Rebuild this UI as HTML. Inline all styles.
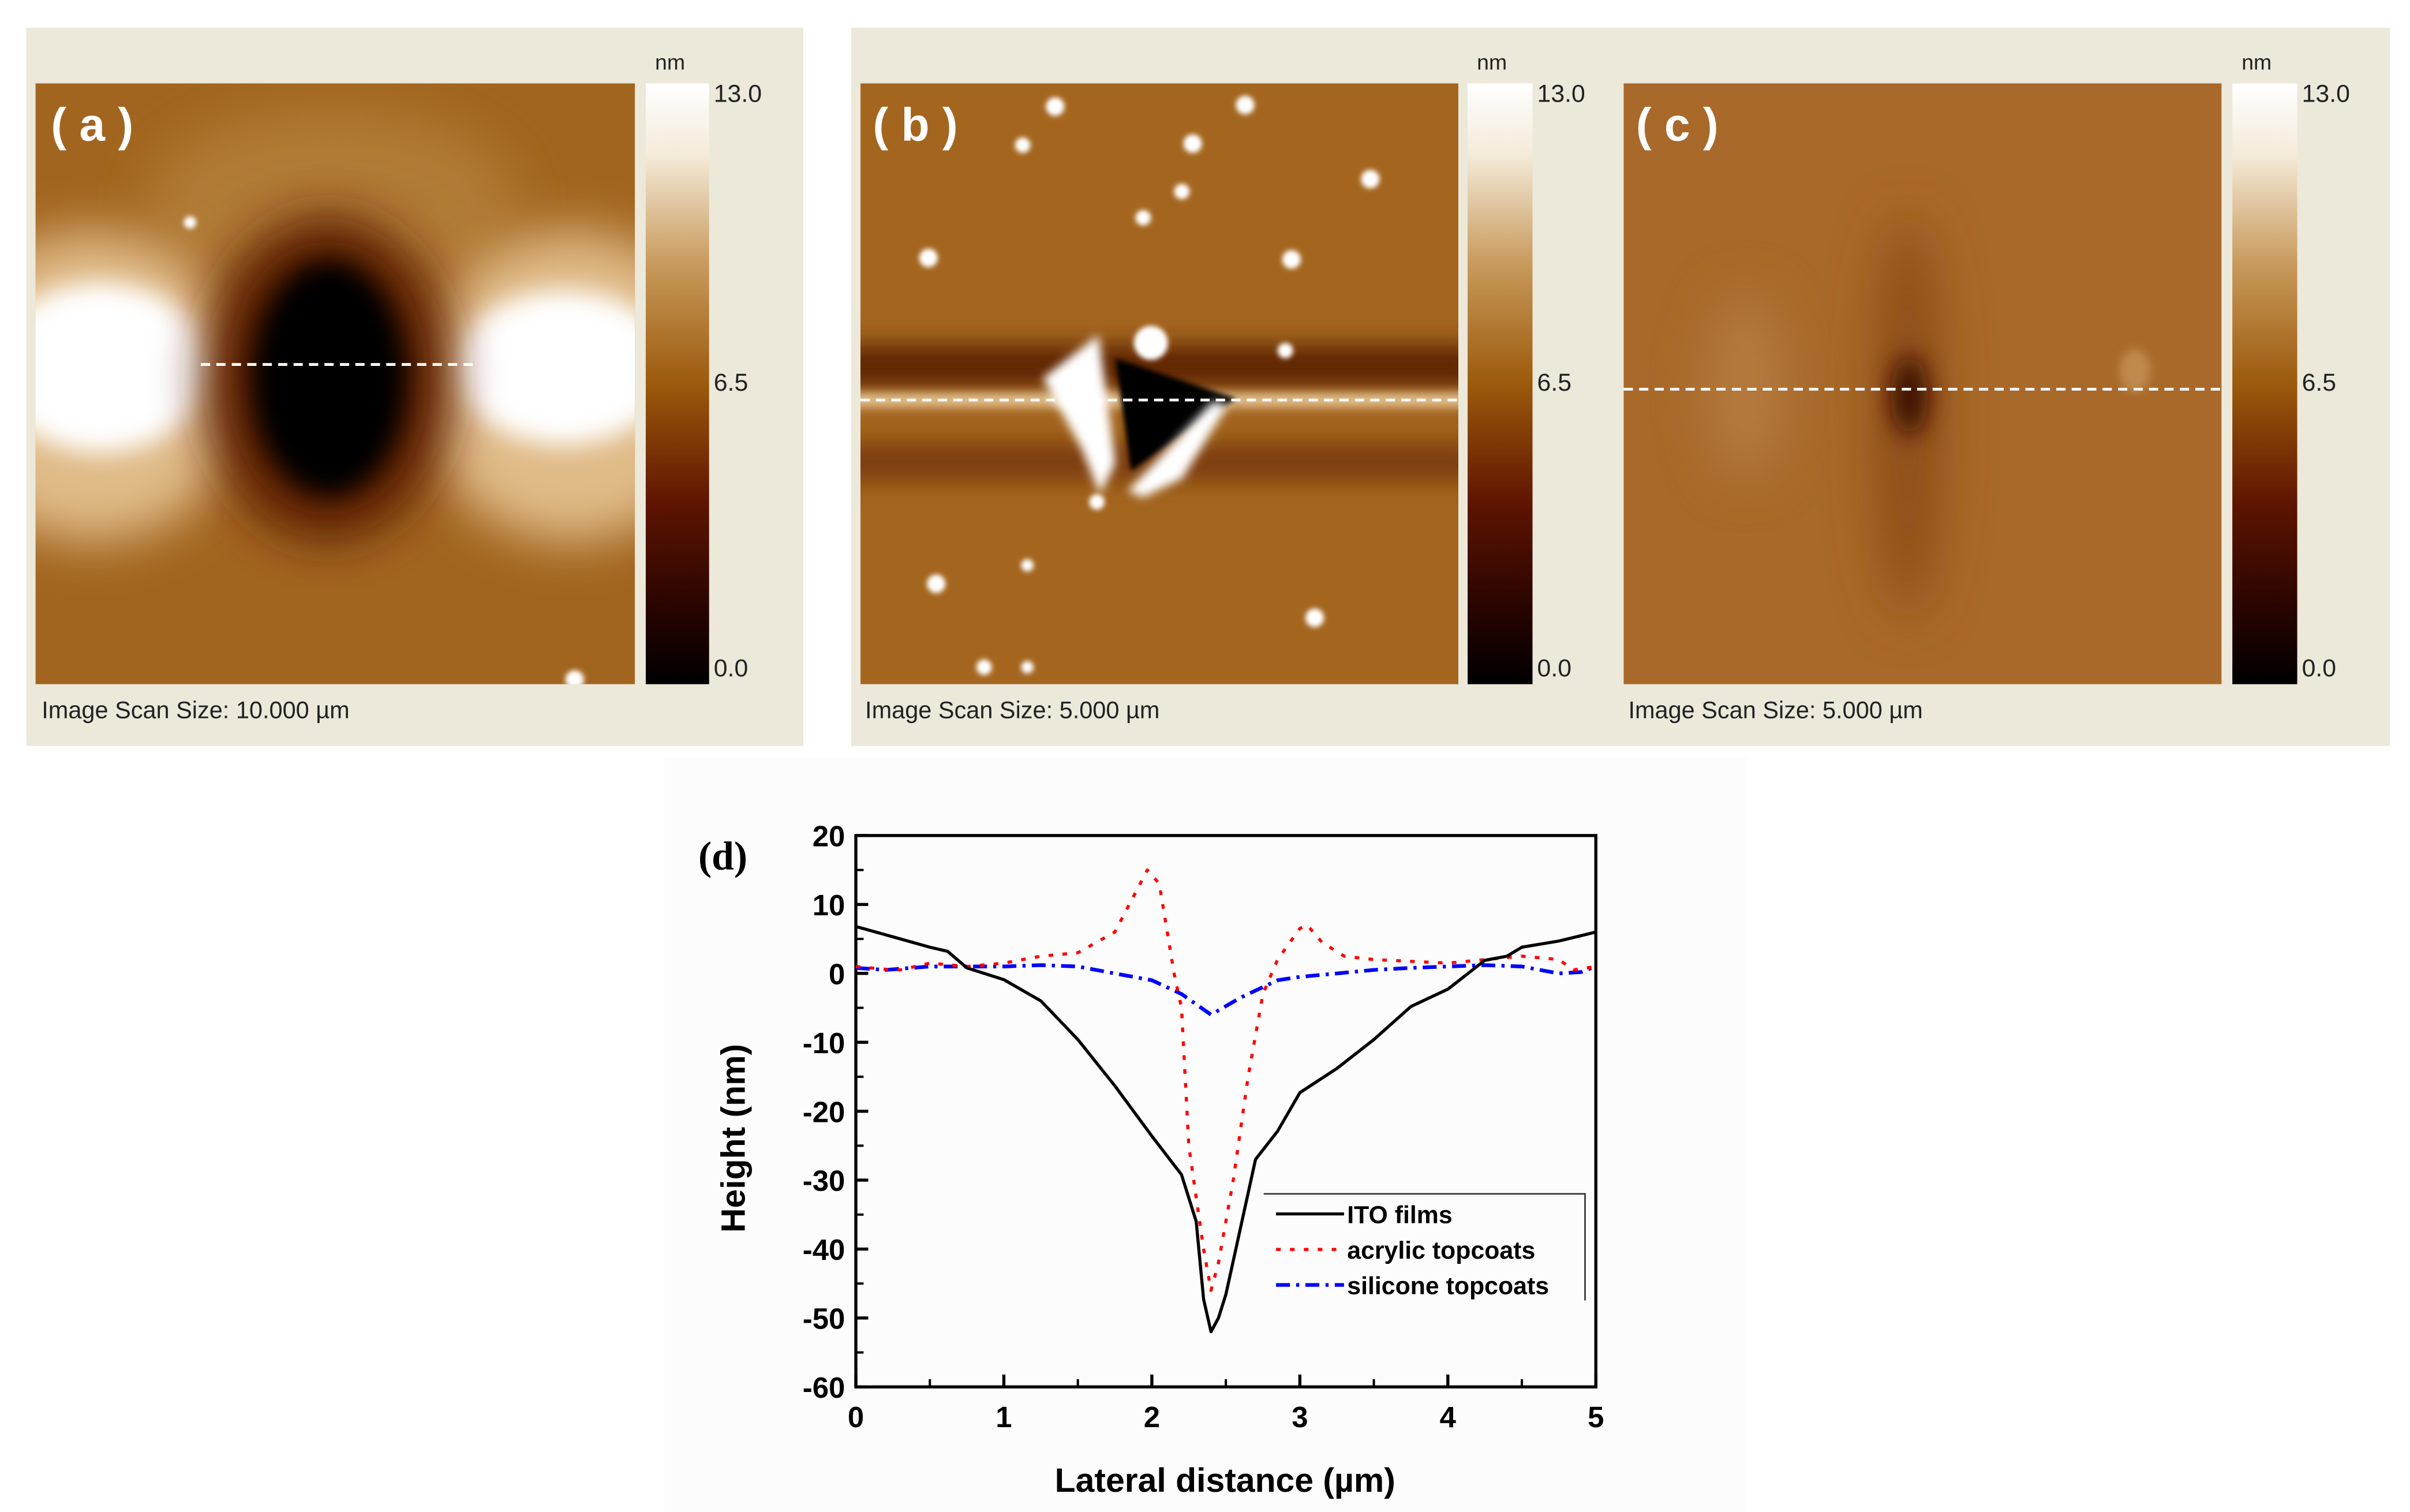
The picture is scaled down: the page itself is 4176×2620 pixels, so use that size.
<!DOCTYPE html>
<html><head><meta charset="utf-8">
<style>
html,body{margin:0;padding:0;background:#fff;}
svg{display:block;}
.lab{font-family:"Liberation Sans",sans-serif;fill:#222;}
.tick{font-family:"Liberation Sans",sans-serif;font-weight:bold;font-size:19px;fill:#000;}
</style></head><body>
<svg id="fig" width="4176" height="2620" viewBox="0 0 1560 979" preserveAspectRatio="none" xmlns="http://www.w3.org/2000/svg">
<defs>
<linearGradient id="cbar" x1="0" y1="0" x2="0" y2="1">
<stop offset="0" stop-color="#ffffff"/><stop offset="0.12" stop-color="#f4ead8"/>
<stop offset="0.3" stop-color="#c89a5c"/><stop offset="0.5" stop-color="#9c5a0c"/>
<stop offset="0.7" stop-color="#5e1400"/><stop offset="0.88" stop-color="#260400"/><stop offset="1" stop-color="#000"/>
</linearGradient>
<filter id="blur8" x="-100%" y="-100%" width="300%" height="300%"><feGaussianBlur stdDeviation="8"/></filter>
<filter id="blur14" x="-100%" y="-100%" width="300%" height="300%"><feGaussianBlur stdDeviation="16"/></filter>
<filter id="blur3" x="-100%" y="-100%" width="300%" height="300%"><feGaussianBlur stdDeviation="3"/></filter>
<filter id="blur2" x="-100%" y="-100%" width="300%" height="300%"><feGaussianBlur stdDeviation="1.6"/></filter>
<clipPath id="ca"><rect x="23" y="54" width="388" height="389"/></clipPath>
<clipPath id="cb"><rect x="557" y="54" width="387" height="389"/></clipPath>
<clipPath id="cc"><rect x="1051" y="54" width="387" height="389"/></clipPath>
</defs>

<!-- panel a -->
<g>
<rect x="17" y="18" width="503" height="465" fill="#ece8da"/>
<g clip-path="url(#ca)">
<rect x="23" y="54" width="388" height="389" fill="#a2651f"/>
<ellipse cx="215" cy="130" rx="120" ry="60" fill="#b07a35" filter="url(#blur14)"/>
<ellipse cx="60" cy="250" rx="100" ry="100" fill="#e0bb88" filter="url(#blur14)"/>
<ellipse cx="370" cy="250" rx="100" ry="100" fill="#e0bb88" filter="url(#blur14)"/>
<ellipse cx="65" cy="238" rx="70" ry="55" fill="#fff" filter="url(#blur8)"/>
<ellipse cx="365" cy="238" rx="70" ry="50" fill="#fff" filter="url(#blur8)"/>
<ellipse cx="212" cy="245" rx="80" ry="105" fill="#5a1a00" filter="url(#blur14)"/>
<ellipse cx="213" cy="245" rx="50" ry="76" fill="#000" filter="url(#blur8)"/>
<circle cx="123" cy="144" r="4" fill="#fff" filter="url(#blur2)"/>
<circle cx="372" cy="440" r="6" fill="#fff" filter="url(#blur2)"/>
<line x1="130" y1="236" x2="308" y2="236" stroke="#fff" stroke-width="1.8" stroke-dasharray="6,4"/>
</g>
<text x="33" y="91" font-family="Liberation Sans,sans-serif" font-weight="bold" font-size="30" fill="#fff">( a )</text>
<rect x="418" y="54" width="41" height="389" fill="url(#cbar)"/>
<text class="lab" x="424" y="45" font-size="14">nm</text>
<text class="lab" x="462" y="66" font-size="16">13.0</text>
<text class="lab" x="462" y="253" font-size="16">6.5</text>
<text class="lab" x="462" y="438" font-size="16">0.0</text>
<text class="lab" x="27" y="465" font-size="15.5">Image Scan Size:  10.000 µm</text>
</g>

<!-- panels b,c -->
<rect x="551" y="18" width="996" height="465" fill="#ece8da"/>
<g>
<g clip-path="url(#cb)">
<rect x="557" y="54" width="387" height="389" fill="#a4661f"/>
<rect x="540" y="224" width="420" height="26" fill="#5c2404" filter="url(#blur8)"/>
<rect x="540" y="287" width="420" height="24" fill="#7a3a08" filter="url(#blur8)"/>
<rect x="540" y="254" width="420" height="10" fill="#e0bc88" filter="url(#blur3)"/>
<g fill="#fff" filter="url(#blur2)">
<circle cx="683" cy="69" r="6"/><circle cx="806" cy="68" r="6"/><circle cx="662" cy="94" r="5"/>
<circle cx="772" cy="93" r="6"/><circle cx="765" cy="124" r="5"/><circle cx="740" cy="141" r="5"/>
<circle cx="887" cy="116" r="6"/><circle cx="601" cy="167" r="6"/><circle cx="836" cy="168" r="6"/>
<circle cx="832" cy="227" r="5"/><circle cx="606" cy="378" r="6"/><circle cx="665" cy="366" r="4"/>
<circle cx="851" cy="400" r="6"/><circle cx="637" cy="432" r="5"/><circle cx="665" cy="432" r="4"/>
<circle cx="710" cy="325" r="5"/><circle cx="745" cy="222" r="11"/>
</g>
<polygon points="675,245 711,217 722,300 712,320 700,290" fill="#fff" filter="url(#blur3)"/>
<polygon points="722,232 800,258 732,305" fill="#000" filter="url(#blur2)"/>
<polygon points="730,318 785,260 795,262 765,310 740,322" fill="#fff" filter="url(#blur3)"/>
<line x1="557" y1="259" x2="944" y2="259" stroke="#fff" stroke-width="1.8" stroke-dasharray="6,4"/>
</g>
<text x="565" y="91" font-family="Liberation Sans,sans-serif" font-weight="bold" font-size="30" fill="#fff">( b )</text>
<rect x="950" y="54" width="42" height="389" fill="url(#cbar)"/>
<text class="lab" x="956" y="45" font-size="14">nm</text>
<text class="lab" x="995" y="66" font-size="16">13.0</text>
<text class="lab" x="995" y="253" font-size="16">6.5</text>
<text class="lab" x="995" y="438" font-size="16">0.0</text>
<text class="lab" x="560" y="465" font-size="15.5">Image Scan Size:  5.000 µm</text>
</g>
<g>
<g clip-path="url(#cc)">
<rect x="1051" y="54" width="387" height="389" fill="#a8692a"/>
<ellipse cx="1235" cy="270" rx="22" ry="130" fill="#8e4e14" filter="url(#blur14)"/>
<ellipse cx="1130" cy="250" rx="25" ry="60" fill="#b57a3c" filter="url(#blur14)"/>
<ellipse cx="1236" cy="256" rx="12" ry="26" fill="#3a0c00" filter="url(#blur8)"/>
<ellipse cx="1382" cy="240" rx="10" ry="14" fill="#c08a4c" filter="url(#blur3)"/>
<line x1="1051" y1="252" x2="1438" y2="252" stroke="#fff" stroke-width="1.8" stroke-dasharray="6,4"/>
</g>
<text x="1059" y="91" font-family="Liberation Sans,sans-serif" font-weight="bold" font-size="30" fill="#fff">( c )</text>
<rect x="1445" y="54" width="42" height="389" fill="url(#cbar)"/>
<text class="lab" x="1451" y="45" font-size="14">nm</text>
<text class="lab" x="1490" y="66" font-size="16">13.0</text>
<text class="lab" x="1490" y="253" font-size="16">6.5</text>
<text class="lab" x="1490" y="438" font-size="16">0.0</text>
<text class="lab" x="1054" y="465" font-size="15.5">Image Scan Size:  5.000 µm</text>
</g>

<!-- chart d -->
<g id="chart">
<rect x="430" y="490" width="700" height="489" fill="#fcfcfc"/>
<text x="452" y="563" font-family="Liberation Serif,serif" font-weight="bold" font-size="26" fill="#000">(d)</text>
<text x="793" y="966" text-anchor="middle" font-family="Liberation Sans,sans-serif" font-weight="bold" font-size="22" fill="#000">Lateral distance (µm)</text>
<text transform="translate(482,737) rotate(-90)" text-anchor="middle" font-family="Liberation Sans,sans-serif" font-weight="bold" font-size="22" fill="#000">Height (nm)</text>
<g id="axes"></g>
<g id="series"></g>
<g>
<path d="M818,773 H1026 V842" fill="none" stroke="#333" stroke-width="1"/>
<g><line x1="826" y1="786" x2="870" y2="786" stroke="#000" stroke-width="2"/><text x="872" y="792" font-family="Liberation Sans,sans-serif" font-weight="bold" font-size="16">ITO films</text></g>
<g><line x1="826" y1="809" x2="870" y2="809" stroke="#f00" stroke-width="2" stroke-dasharray="3,6"/><text x="872" y="815" font-family="Liberation Sans,sans-serif" font-weight="bold" font-size="16">acrylic topcoats</text></g>
<g><line x1="826" y1="832" x2="870" y2="832" stroke="#00f" stroke-width="2.4" stroke-dasharray="9,4,2,4"/><text x="872" y="838" font-family="Liberation Sans,sans-serif" font-weight="bold" font-size="16">silicone topcoats</text></g>
</g>
</g>
</svg>
<script>
const xTicks=[0,1,2,3,4,5];
const yTicks=[20,10,0,-10,-20,-30,-40,-50,-60];
const itoX=[0,0.25,0.5,0.62,0.75,1.0,1.25,1.5,1.75,2.0,2.2,2.3,2.35,2.4,2.45,2.5,2.6,2.7,2.85,3.0,3.25,3.5,3.75,4.0,4.25,4.4,4.5,4.75,5.0];
const itoY=[6.8,5.3,3.8,3.2,0.8,-0.9,-4,-9.6,-16.3,-23.6,-29.2,-36,-47.3,-52,-50,-46.6,-36.8,-27,-22.9,-17.3,-13.8,-9.6,-4.8,-2.3,1.9,2.5,3.8,4.7,6.0];
const acrX=[0,0.2,0.3,0.5,0.75,1.0,1.25,1.5,1.75,1.97,2.05,2.15,2.2,2.25,2.35,2.4,2.45,2.55,2.65,2.75,2.85,3.0,3.05,3.15,3.3,3.5,4.0,4.5,4.75,4.85,5.0];
const acrY=[1,0.6,0.5,1.5,1,1.5,2.5,3,6,15,13,0,-5,-25,-40,-46,-42,-30,-15,-3,2,6.5,7,4.5,2.5,2,1.5,2.5,2.0,0.5,1];
const silX=[0,0.2,0.5,1.0,1.25,1.5,1.75,2.0,2.2,2.4,2.6,2.85,3.0,3.25,3.5,3.75,4.25,4.5,4.75,4.9,5.0];
const silY=[0.8,0.5,1,1,1.2,1,0,-1,-3,-6,-3.5,-1,-0.5,0,0.5,0.8,1.2,1,0,0.2,1];
const X0=554,X1=1033,Y0=898,Y1=541;
const sx=v=>X0+(v-0)/(5-0)*(X1-X0);
const sy=v=>Y0-(v-(-60))/(80)*(Y0-Y1);
const NS="http://www.w3.org/2000/svg";
const axes=document.getElementById('axes');
function el(tag,attrs,parent){const e=document.createElementNS(NS,tag);for(const k in attrs)e.setAttribute(k,attrs[k]);parent.appendChild(e);return e;}
const frame=el('rect',{x:X0,y:Y1,width:X1-X0,height:Y0-Y1,fill:'none',stroke:'#000','stroke-width':2},axes);


xTicks.forEach(t=>{
 const l=el('line',{x1:sx(t),x2:sx(t),y1:Y0,y2:Y0-8,stroke:'#000','stroke-width':2},axes);
 
 
 if(t<5){el('line',{x1:sx(t+0.5),x2:sx(t+0.5),y1:Y0,y2:Y0-5,stroke:'#000','stroke-width':1.5},axes);}
 const tx=el('text',{x:sx(t),y:Y0+26,'text-anchor':'middle',class:'tick'},axes);
 tx.textContent=t;
 
 
});
yTicks.forEach(t=>{
 const l=el('line',{x1:X0,x2:X0+8,y1:sy(t),y2:sy(t),stroke:'#000','stroke-width':2},axes);
 
 
 if(t>-60){el('line',{x1:X0,x2:X0+5,y1:sy(t-5),y2:sy(t-5),stroke:'#000','stroke-width':1.5},axes);}
 const tx=el('text',{x:X0-7,y:sy(t)+7,'text-anchor':'end',class:'tick'},axes);
 tx.textContent=t;
 
 
});
const ser=document.getElementById('series');
function line(xs,ys,color,dash,w,name){
 const d=xs.map((x,i)=>(i?'L':'M')+sx(x).toFixed(1)+','+sy(ys[i]).toFixed(1)).join(' ');
 const p=el('path',{d:d,fill:'none',stroke:color,'stroke-width':w,'stroke-dasharray':dash,'stroke-linejoin':'round'},ser);
 
 
}
line(silX,silY,'#00f','9,4,2,4',2.4,'silicone-line');
line(acrX,acrY,'#f00','3,6',2,'acrylic-line');
line(itoX,itoY,'#000','none',2,'ito-line');
</script>
</body></html>
